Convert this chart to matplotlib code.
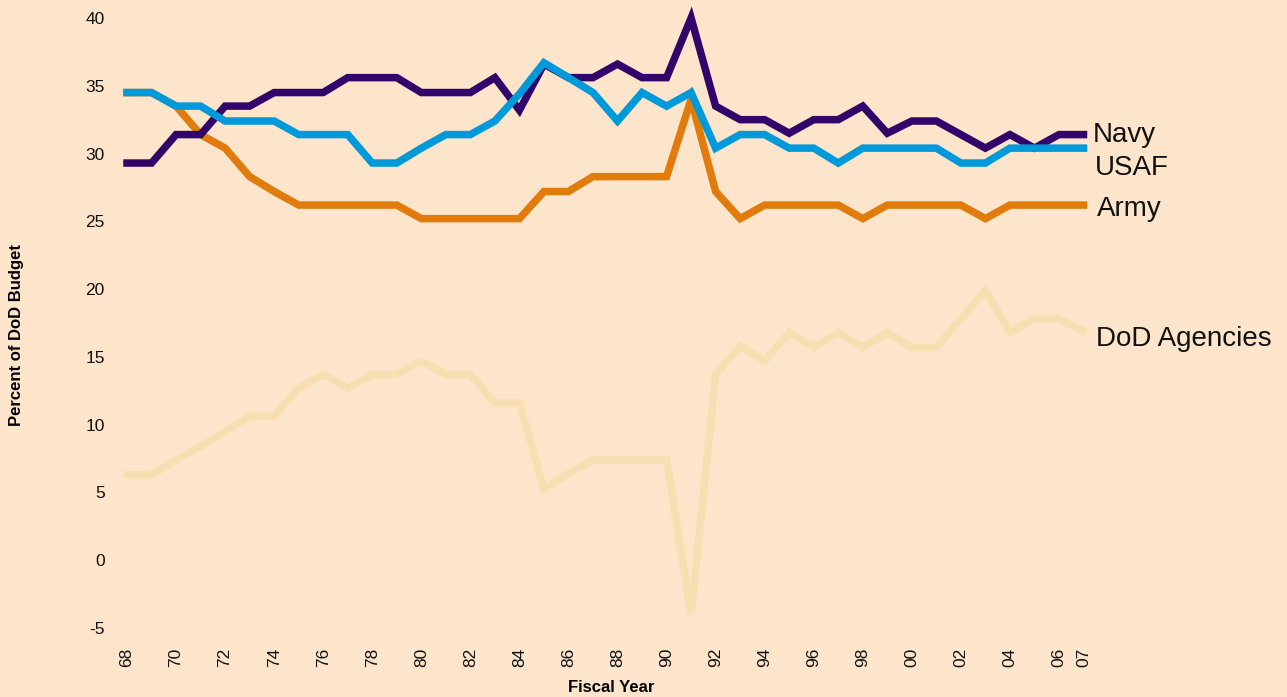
import matplotlib
matplotlib.use("Agg")
import matplotlib.pyplot as plt

years = ['68','69','70','71','72','73','74','75','76','77','78','79',
         '80','81','82','83','84','85','86','87','88','89','90','91',
         '92','93','94','95','96','97','98','99','00','01','02','03',
         '04','05','06','07']

navy = [29.3, 29.3, 31.4, 31.4, 33.5, 33.5, 34.5, 34.5, 34.5, 35.6, 35.6, 35.6,
        34.5, 34.5, 34.5, 35.6, 33.2, 36.6, 35.6, 35.6, 36.6, 35.6, 35.6, 40.0,
        33.5, 32.5, 32.5, 31.5, 32.5, 32.5, 33.5, 31.5, 32.4, 32.4, 31.4, 30.4,
        31.4, 30.4, 31.4, 31.4]
usaf = [34.5, 34.5, 33.5, 33.5, 32.4, 32.4, 32.4, 31.4, 31.4, 31.4, 29.3, 29.3,
        30.4, 31.4, 31.4, 32.4, 34.4, 36.7, 35.6, 34.5, 32.4, 34.5, 33.5, 34.5,
        30.4, 31.4, 31.4, 30.4, 30.4, 29.3, 30.4, 30.4, 30.4, 30.4, 29.3, 29.3,
        30.4, 30.4, 30.4, 30.4]
army = [34.5, 34.5, 33.5, 31.4, 30.4, 28.3, 27.2, 26.2, 26.2, 26.2, 26.2, 26.2,
        25.2, 25.2, 25.2, 25.2, 25.2, 27.2, 27.2, 28.3, 28.3, 28.3, 28.3, 34.0,
        27.2, 25.2, 26.2, 26.2, 26.2, 26.2, 25.2, 26.2, 26.2, 26.2, 26.2, 25.2,
        26.2, 26.2, 26.2, 26.2]
agencies = [6.3, 6.3, 7.4, 8.4, 9.5, 10.6, 10.6, 12.7, 13.7, 12.7, 13.7, 13.7,
            14.7, 13.7, 13.7, 11.6, 11.6, 5.3, 6.4, 7.4, 7.4, 7.4, 7.4, -4.0,
            13.7, 15.8, 14.7, 16.8, 15.7, 16.8, 15.7, 16.8, 15.7, 15.7, 17.8, 19.9,
            16.8, 17.8, 17.8, 16.9]

tick_labels = ['68','70','72','74','76','78','80','82','84','86','88','90',
               '92','94','96','98','00','02','04','06','07']
y_ticks = [-5, 0, 5, 10, 15, 20, 25, 30, 35, 40]

bg = '#FDE5CC'
W, H = 1287, 697
fig = plt.figure(figsize=(W/100, H/100), dpi=100, facecolor=bg)
left, right, top, bottom = 127, 1083.5, 18, 628
ax = fig.add_axes([left/W, 1-bottom/H, (right-left)/W, (bottom-top)/H])
ax.set_facecolor(bg)

x = list(range(len(years)))
lw = 5.4
ax.plot(x, agencies, color='#F8DFB1', lw=lw, solid_joinstyle='miter', clip_on=False, zorder=2)
ax.plot(x, army, color='#E07B0C', lw=lw, solid_joinstyle='miter', clip_on=False, zorder=3)
ax.plot(x, navy, color='#32056A', lw=lw, solid_joinstyle='miter', clip_on=False, zorder=4)
ax.plot(x, usaf, color='#0099DA', lw=lw, solid_joinstyle='miter', clip_on=False, zorder=5)

ax.set_xlim(0, len(years)-1)
ax.set_ylim(-5, 40)
ax.set_yticks(y_ticks)
ax.set_yticklabels([str(v) for v in y_ticks])
ax.set_xticks([years.index(t) for t in tick_labels])
ax.set_xticklabels(tick_labels, rotation=90)
for s in ax.spines.values():
    s.set_visible(False)
ax.tick_params(axis='both', length=0, labelsize=12.5, labelcolor='#111111')
ax.tick_params(axis='y', pad=16)
ax.tick_params(axis='x', pad=14)
for lab in ax.get_xticklabels() + ax.get_yticklabels():
    lab.set_family('Liberation Sans')

ax.set_xlabel('Fiscal Year', fontsize=12, fontweight='bold', family='Liberation Sans', labelpad=11)
ax.xaxis.set_label_coords((611 - left) / (right - left), -0.005, transform=None) if False else None
fig.text(611/W, 1-688/H, 'Fiscal Year', fontsize=12, fontweight='bold',
         family='Liberation Sans', ha='center', va='center')
ax.set_xlabel('')
fig.text(17/W, 1-335/H, 'Percent of DoD Budget', rotation=90, fontsize=12,
         fontweight='bold', family='Liberation Sans', ha='center', va='center')

n = len(years) - 1
lab_kw = dict(fontsize=20, family='Liberation Sans', va='center', ha='left', color='#111111')
ax.annotate('Navy', xy=(n, navy[-1]), xytext=(9, 0), textcoords='offset pixels', **lab_kw)
ax.annotate('USAF', xy=(n, usaf[-1]), xytext=(11, -20), textcoords='offset pixels', **lab_kw)
ax.annotate('Army', xy=(n, army[-1]), xytext=(13, -4), textcoords='offset pixels', **lab_kw)
ax.annotate('DoD Agencies', xy=(n, agencies[-1]), xytext=(13, -8), textcoords='offset pixels', **lab_kw)

fig.savefig('out.png', dpi=100, facecolor=bg)
